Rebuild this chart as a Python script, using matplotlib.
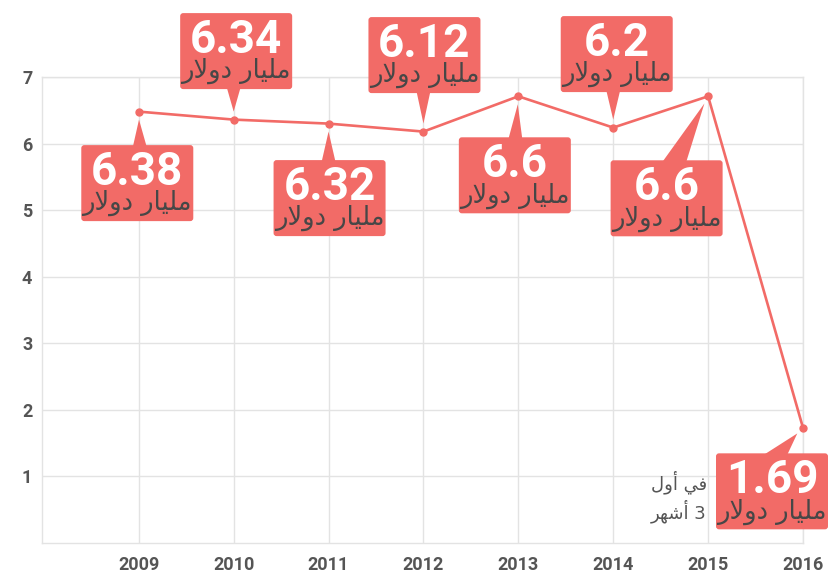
import matplotlib
matplotlib.use("Agg")
import matplotlib.pyplot as plt
from matplotlib.patches import FancyBboxPatch, Polygon
from matplotlib.transforms import IdentityTransform

# data
years = [2009, 2010, 2011, 2012, 2013, 2014, 2015, 2016]
values = [6.48, 6.36, 6.30, 6.18, 6.71, 6.24, 6.71, 1.73]
value_labels = ["6.38", "6.34", "6.32", "6.12", "6.6", "6.2", "6.6", "1.69"]
unit_label = "مليار دولار"
note_lines = ["في أول", "3 أشهر"]
y_ticks = [1, 2, 3, 4, 5, 6, 7]

# callout layout in pixels: box centre offset from point, pointer base offset
box_offsets = [(-1.5, 71.5), (2.5, -68.5), (1, 74.5), (1, -76.5),
               (-3.5, 79), (3.5, -73.5), (-41.5, 102), (-31, 63.5)]
pointer_dx = [1, 0, 0, 0, -3, 0, -34, -28]

RED = "#f26b67"
GRID = "#e3e3e3"
TICK = "#555555"
DARK = "#474747"
W, H = 830, 573

# tiny arabic shaper (presentation forms, visual LTR order)
FORMS = {
    "ا": ("\uFE8D", "\uFE8E", None, None),
    "أ": ("\uFE83", "\uFE84", None, None),
    "د": ("\uFEA9", "\uFEAA", None, None),
    "ر": ("\uFEAD", "\uFEAE", None, None),
    "و": ("\uFEED", "\uFEEE", None, None),
    "ل": ("\uFEDD", "\uFEDE", "\uFEDF", "\uFEE0"),
    "م": ("\uFEE1", "\uFEE2", "\uFEE3", "\uFEE4"),
    "ي": ("\uFEF1", "\uFEF2", "\uFEF3", "\uFEF4"),
    "ف": ("\uFED1", "\uFED2", "\uFED3", "\uFED4"),
    "ش": ("\uFEB5", "\uFEB6", "\uFEB7", "\uFEB8"),
    "ه": ("\uFEE9", "\uFEEA", "\uFEEB", "\uFEEC"),
}
LAM_ALEF = {"ا": ("\uFEFB", "\uFEFC"), "أ": ("\uFEF7", "\uFEF8")}


def shape_word(word):
    out = []
    i = 0
    while i < len(word):
        ch = word[i]
        prev = word[i - 1] if i > 0 else None
        joins_prev = prev in FORMS and FORMS[prev][2] is not None
        if ch == "ل" and i + 1 < len(word) and word[i + 1] in LAM_ALEF:
            out.append(LAM_ALEF[word[i + 1]][1 if joins_prev else 0])
            i += 2
            continue
        if ch not in FORMS:
            out.append(ch)
            i += 1
            continue
        nxt = word[i + 1] if i + 1 < len(word) else None
        joins_next = FORMS[ch][2] is not None and nxt in FORMS
        iso, fin, ini, med = FORMS[ch]
        if joins_prev and joins_next:
            out.append(med)
        elif joins_prev:
            out.append(fin)
        elif joins_next:
            out.append(ini)
        else:
            out.append(iso)
        i += 1
    return "".join(out)


def rtl(text):
    words = []
    for w in text.split(" "):
        if any(c in FORMS for c in w):
            words.append(shape_word(w)[::-1])
        else:
            words.append(w)
    return " ".join(words[::-1])


fig = plt.figure(figsize=(W / 100, H / 100), dpi=100)
ax = fig.add_axes([42 / W, 30 / H, (803 - 42) / W, (543 - 77) / H])

ax.plot(years, values, color=RED, lw=1.9, marker="o", ms=5, zorder=3, clip_on=False)

ax.set_xlim(2007.98, 2016)
ax.set_ylim(0, 7)
ax.set_xticks(years)
ax.set_yticks(y_ticks)
ax.grid(True, color=GRID, lw=1)
ax.set_axisbelow(True)
for sp in ax.spines.values():
    sp.set_color(GRID)
    sp.set_linewidth(1)
ax.tick_params(length=0, labelsize=13, labelcolor=TICK)
ax.tick_params(axis="x", pad=9)
ax.tick_params(axis="y", pad=7)
for lab in ax.get_xticklabels() + ax.get_yticklabels():
    lab.set_fontfamily("Roboto")
    lab.set_fontweight("bold")

ident = IdentityTransform()
BW, BH = 112, 76
unit_txt = rtl(unit_label)

for x, v, lab, (dx, dy), pdx in zip(years, values, value_labels, box_offsets, pointer_dx):
    px, py = ax.transData.transform((x, v))
    py = H - py  # image coords, y down
    cx, cy = px + dx, py + dy
    left, top = cx - BW / 2, cy - BH / 2
    box = FancyBboxPatch((left, H - top - BH), BW, BH,
                         boxstyle="round,pad=0,rounding_size=3",
                         fc=RED, ec="none", transform=ident)
    fig.add_artist(box)

    # pointer wedge
    bx = px + pdx
    edge = top + 2 if dy > 0 else top + BH - 2
    vx, vy = px - bx, py - edge
    dist = (vx ** 2 + vy ** 2) ** 0.5
    gap = 8
    tx, ty = px - vx / dist * gap, py - vy / dist * gap
    half = 7 if abs(pdx) < 10 else 12
    tri = Polygon([(bx - half, H - edge), (bx + half, H - edge), (tx, H - ty)],
                  closed=True, fc=RED, ec="none", transform=ident)
    fig.add_artist(tri)

    fig.text(cx, H - (top + 40), lab, transform=ident, ha="center", va="baseline",
             color="white", fontsize=33, fontweight="bold", family="Roboto")
    fig.text(cx, H - (top + 65), unit_txt, transform=ident, ha="center", va="baseline",
             color=DARK, fontsize=18.5, family="DejaVu Sans")

for i, line in enumerate(note_lines):
    fig.text(707, H - (489 + 29 * i), rtl(line), transform=ident, ha="right",
             va="baseline", color=TICK, fontsize=13, family="DejaVu Sans")

fig.savefig("out.png", dpi=100)
